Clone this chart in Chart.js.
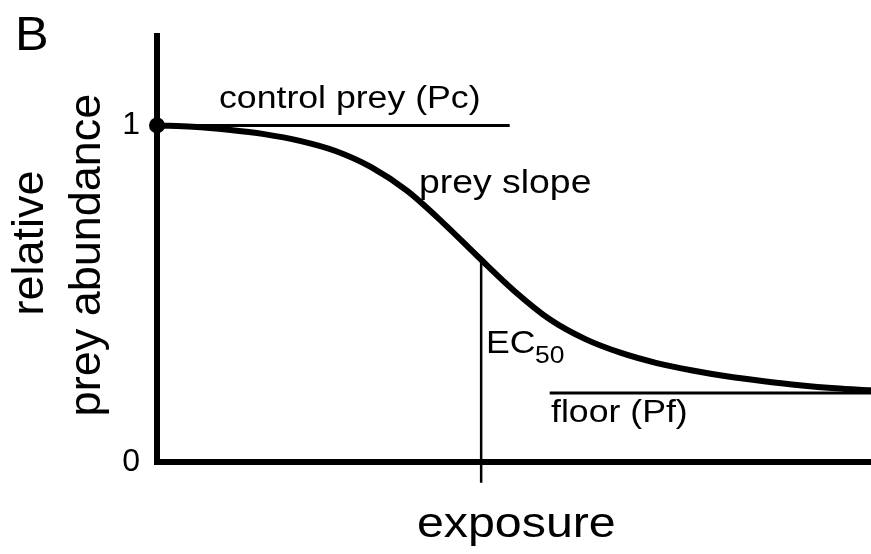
<!DOCTYPE html>
<html>
<head>
<meta charset="utf-8">
<script src="https://cdn.jsdelivr.net/npm/chart.js@4.4.1/dist/chart.umd.min.js"></script>
<style>
  html, body { margin: 0; padding: 0; background: #fff; }
  canvas { display: block; }
</style>
</head>
<body>
<canvas id="preyChart" width="871" height="554"></canvas>
<script>
// exposure (arbitrary units) and relative prey abundance along the curve
const exposure  = [0, 5, 10, 15, 20, 25, 30, 35, 40, 45, 50, 55, 60, 65, 70, 75, 80, 85, 90, 95, 100];
const abundance = [1.0, 0.996, 0.987, 0.974, 0.954, 0.924, 0.876, 0.806, 0.712, 0.609, 0.509, 0.424,
                   0.365, 0.324, 0.294, 0.272, 0.254, 0.240, 0.228, 0.219, 0.213];

const yTicks = [0, 1];

const controlLevel = 1;      // Pc
const controlEnd = 49.4;
const floorLevel = 0.205;    // Pf
const floorStart = 55;
const ec50 = 45.4;
const ec50Level = 0.6;
const tickDrop = -0.062;

const FONT = '"Liberation Sans", Arial, Helvetica, sans-serif';

const figureText = {
  id: 'figureText',
  afterDraw(chart) {
    const ctx = chart.ctx;
    const put = (txt, x, y, size, sx = 1.15) => {
      ctx.save();
      ctx.translate(x, y);
      ctx.scale(sx, 1);
      ctx.font = size + 'px ' + FONT;
      ctx.fillStyle = '#000';
      ctx.textAlign = 'left';
      ctx.textBaseline = 'alphabetic';
      ctx.fillText(txt, 0, 0);
      ctx.restore();
    };
    put('B', 15, 50, 48, 1.05);
    put('control prey (Pc)', 219, 108, 31);
    put('prey slope', 419, 193, 32.5);
    put('EC', 486, 353, 31);
    put('50', 535, 363, 23);
    put('floor (Pf)', 551, 422, 31);
    put('exposure', 417, 537, 42);

    // rotated y title, two lines
    const vertical = (txt, x, y) => {
      ctx.save();
      ctx.font = '45px ' + FONT;
      ctx.fillStyle = '#000';
      ctx.textAlign = 'center';
      ctx.textBaseline = 'alphabetic';
      ctx.translate(x, y);
      ctx.rotate(-Math.PI / 2);
      ctx.fillText(txt, 0, 0);
      ctx.restore();
    };
    vertical('relative', 43, 243);
    vertical('prey abundance', 100, 255);
  }
};

const ctx = document.getElementById('preyChart').getContext('2d');

new Chart(ctx, {
  type: 'line',
  data: {
    datasets: [
      {
        label: 'prey curve',
        data: exposure.map((x, i) => ({ x: x, y: abundance[i] })),
        borderColor: '#000',
        borderWidth: 6,
        pointRadius: 0,
        cubicInterpolationMode: 'monotone',
        fill: false
      },
      {
        label: 'control',
        data: [{ x: 0, y: controlLevel }, { x: controlEnd, y: controlLevel }],
        borderColor: '#000',
        borderWidth: 3,
        pointRadius: 0
      },
      {
        label: 'floor',
        data: [{ x: floorStart, y: floorLevel }, { x: 100, y: floorLevel }],
        borderColor: '#000',
        borderWidth: 3,
        pointRadius: 0
      },
      {
        label: 'EC50',
        data: [{ x: ec50, y: ec50Level }, { x: ec50, y: tickDrop }],
        borderColor: '#000',
        borderWidth: 2.5,
        pointRadius: 0,
        clip: false
      },
      {
        label: 'start',
        data: [{ x: exposure[0], y: abundance[0] }],
        showLine: false,
        pointRadius: 8,
        pointBackgroundColor: '#000',
        pointBorderWidth: 0,
        clip: false
      }
    ]
  },
  options: {
    responsive: false,
    animation: false,
    layout: { autoPadding: false, padding: { top: 32, left: 0, right: 0, bottom: 0 } },
    scales: {
      x: {
        type: 'linear',
        min: 0,
        max: 100,
        ticks: { display: false },
        grid: { display: false, drawTicks: false },
        border: { display: true, color: '#000', width: 6 },
        afterFit: (scale) => { scale.height = 92; }
      },
      y: {
        type: 'linear',
        min: 0,
        max: 1.265,
        afterBuildTicks: (axis) => { axis.ticks = yTicks.map(v => ({ value: v })); },
        ticks: {
          color: '#000',
          padding: 17,
          font: { family: FONT, size: 32 },
          callback: (v) => String(v)
        },
        grid: { display: false, drawTicks: false },
        border: { display: true, color: '#000', width: 6 },
        afterFit: (scale) => { scale.width = 157; }
      }
    },
    plugins: {
      legend: { display: false },
      tooltip: { enabled: false }
    }
  },
  plugins: [figureText]
});
</script>
</body>
</html>
